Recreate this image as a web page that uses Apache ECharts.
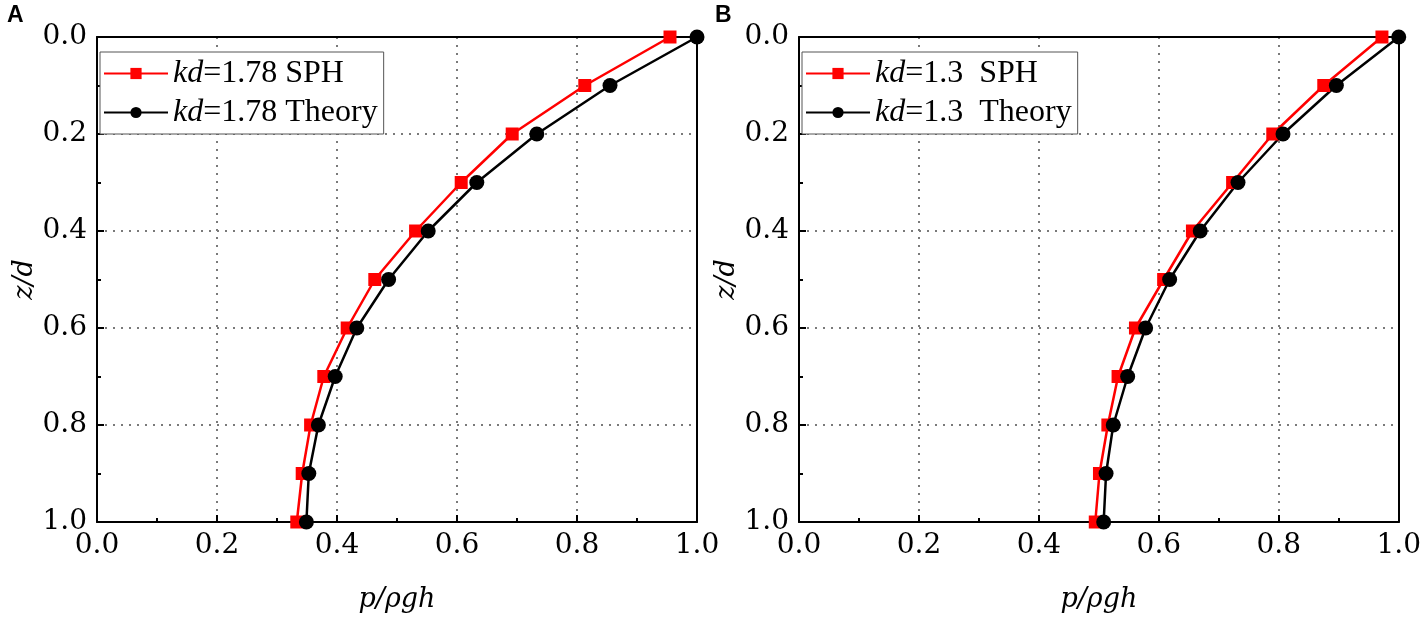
<!DOCTYPE html>
<html>
<head>
<meta charset="utf-8">
<script src="https://cdn.jsdelivr.net/npm/echarts@6/dist/echarts.min.js"></script>
<style>
  html, body { margin: 0; padding: 0; background: #fff; }
  #main { width: 1424px; height: 621px; }
</style>
</head>
<body>
<div id="main"></div>
<script>
const myChart = echarts.init(document.querySelector('#main'))

// depth z/d, shared by all curves
const depth = [0, 0.1, 0.2, 0.3, 0.4, 0.5, 0.6, 0.7, 0.8, 0.9, 1.0]
// panel A, kd = 1.78
const sphA = [0.955, 0.813, 0.692, 0.607, 0.531, 0.463, 0.417, 0.378, 0.356, 0.342, 0.333]
const theoryA = [1.0, 0.855, 0.733, 0.633, 0.552, 0.486, 0.433, 0.397, 0.369, 0.353, 0.349]
// panel B, kd = 1.3
const sphB = [0.972, 0.875, 0.790, 0.723, 0.656, 0.608, 0.561, 0.532, 0.515, 0.501, 0.494]
const theoryB = [1.0, 0.896, 0.807, 0.732, 0.669, 0.618, 0.578, 0.548, 0.524, 0.512, 0.508]
const names = [
  ['kd=1.78 SPH', 'kd=1.78 Theory'],
  ['kd=1.3  SPH', 'kd=1.3  Theory']
]

const serif = 'Liberation Serif'
// axis text only came out serif with DejaVu here
const axisSerif = 'DejaVu Serif'
const pairs = (xs) => xs.map((v, i) => [v, depth[i]])

const gridLine = { show: true, lineStyle: { color: '#7a7a7a', width: 2, type: [2, 6] } }
const blackLine = { onZero: false, lineStyle: { color: '#000', width: 2 } }
const tickStyle = { color: '#000', width: 2 }
const labelText = { fontFamily: axisSerif, fontSize: 28, color: '#000' }
const nameText = { fontFamily: axisSerif, fontStyle: 'italic', fontSize: 27, color: '#000' }

function label(margin) {
  return Object.assign({ margin: margin, formatter: v => v.toFixed(1), textStyle: labelText }, labelText)
}

function xAxis(idx) {
  return {
    gridIndex: idx, type: 'value', min: 0, max: 1, interval: 0.2, position: 'bottom',
    name: 'p/ρgh', nameLocation: 'middle', nameGap: 64,
    nameTextStyle: nameText,
    axisLine: blackLine,
    axisTick: { inside: true, length: 7, lineStyle: tickStyle },
    minorTick: { show: true, splitNumber: 2, length: 4, lineStyle: tickStyle },
    axisLabel: label(10),
    splitLine: gridLine
  }
}

function yAxis(idx) {
  return {
    gridIndex: idx, type: 'value', min: 0, max: 1, interval: 0.2, inverse: true, position: 'left',
    name: 'z/d', nameLocation: 'middle', nameGap: 58,
    nameTextStyle: nameText,
    axisLine: blackLine,
    axisTick: { inside: true, length: 7, lineStyle: tickStyle },
    minorTick: { show: true, splitNumber: 2, length: 4, lineStyle: tickStyle },
    axisLabel: label(10),
    splitLine: gridLine
  }
}

// plain frame lines on the top and right of each plot
function frame(idx, pos) {
  return {
    gridIndex: idx, type: 'value', min: 0, max: 1, position: pos,
    axisLine: blackLine, axisTick: { show: false }, axisLabel: { show: false },
    splitLine: { show: false }
  }
}

function legend(idx, left) {
  return {
    orient: 'vertical', left: left, top: 52,
    data: names[idx],
    itemWidth: 64, itemHeight: 14, itemGap: 6,
    padding: [5, 6, 5, 3],
    backgroundColor: '#fff', borderColor: '#555', borderWidth: 1, borderRadius: 0,
    formatter: n => '{i|kd}{r|' + n.slice(2) + '}',
    textStyle: {
      fontFamily: serif, fontSize: 32, color: '#000', lineHeight: 33,
      rich: {
        i: { fontFamily: serif, fontStyle: 'italic', fontSize: 32, color: '#000' },
        r: { fontFamily: serif, fontSize: 32, color: '#000' }
      }
    }
  }
}

function series(idx, name, data, color, symbol, size) {
  return {
    name: name, type: 'line', xAxisIndex: idx, yAxisIndex: idx,
    data: pairs(data), symbol: symbol, symbolSize: size, clip: false,
    lineStyle: { color: color, width: 2.5 },
    itemStyle: { color: color },
    emphasis: { disabled: true }, animation: false
  }
}

const option = {
  backgroundColor: '#fff',
  animation: false,
  grid: [
    { left: 97, top: 37, width: 600, height: 485 },
    { left: 799, top: 37, width: 601, height: 485 }
  ],
  xAxis: [xAxis(0), xAxis(1), frame(0, 'top'), frame(1, 'top')],
  yAxis: [yAxis(0), yAxis(1), frame(0, 'right'), frame(1, 'right')],
  legend: [legend(0, 100), legend(1, 802)],
  graphic: [
    { type: 'text', left: 7, top: 4, style: { text: 'A', font: 'bold 23px Liberation Sans', fill: '#000' } },
    { type: 'text', left: 715, top: 4, style: { text: 'B', font: 'bold 23px Liberation Sans', fill: '#000' } }
  ],
  series: [
    series(0, names[0][0], sphA, '#ff0000', 'rect', 13),
    series(0, names[0][1], theoryA, '#000000', 'circle', 15),
    series(1, names[1][0], sphB, '#ff0000', 'rect', 13),
    series(1, names[1][1], theoryB, '#000000', 'circle', 15)
  ]
}

option && myChart.setOption(option)
</script>
</body>
</html>
